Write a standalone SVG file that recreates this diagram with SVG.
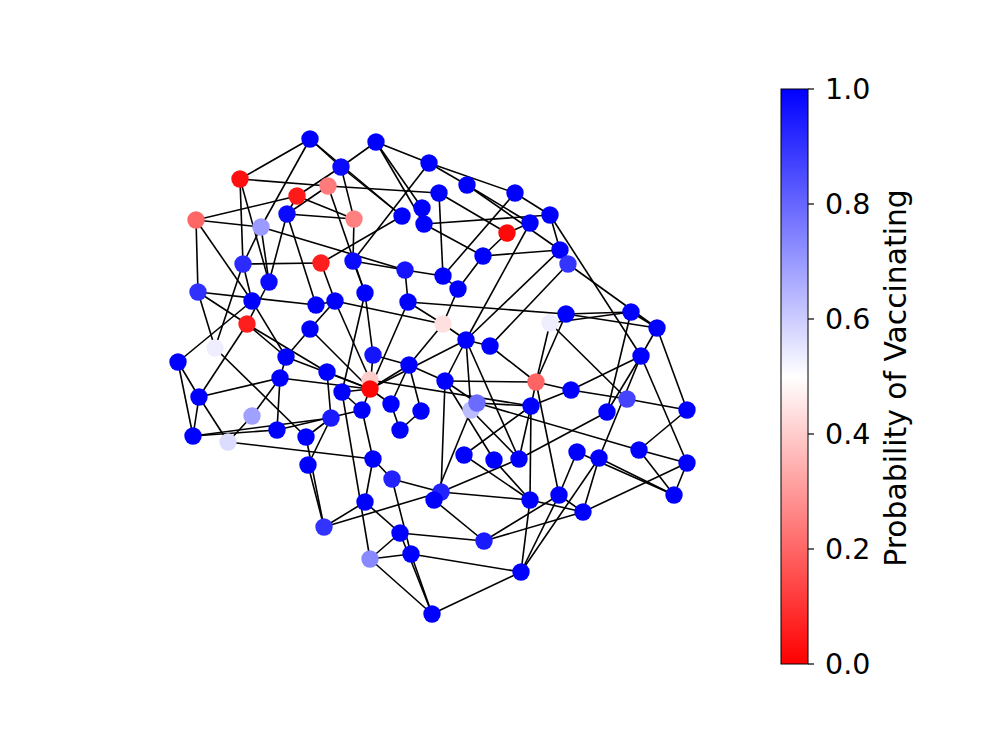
<svg xmlns="http://www.w3.org/2000/svg" width="996" height="747" viewBox="0 0 996 747">
<style>
.e line{stroke:#000;stroke-width:1.6}
.n circle{r:8.7}
.t{font-family:"DejaVu Sans",sans-serif;font-size:28.5px;fill:#000}
.lab{font-size:29.8px}
</style>
<defs>
<linearGradient id="cb" x1="0" y1="1" x2="0" y2="0">
<stop offset="0" stop-color="#ff0000"/><stop offset="0.5" stop-color="#ffffff"/><stop offset="1" stop-color="#0000ff"/>
</linearGradient>
</defs>
<rect width="996" height="747" fill="#fff"/>
<g id="edges" class="e">
<line x1="310" y1="139" x2="240" y2="179"/><line x1="310" y1="139" x2="341" y2="167"/><line x1="310" y1="139" x2="261" y2="227"/><line x1="310" y1="139" x2="402" y2="216"/>
<line x1="376" y1="142" x2="341" y2="167"/><line x1="376" y1="142" x2="429" y2="163"/><line x1="376" y1="142" x2="422" y2="208"/><line x1="376" y1="142" x2="424" y2="224"/>
<line x1="341" y1="167" x2="297" y2="196"/><line x1="341" y1="167" x2="354" y2="219"/><line x1="341" y1="167" x2="402" y2="216"/>
<line x1="429" y1="163" x2="467" y2="185"/><line x1="429" y1="163" x2="353" y2="261"/><line x1="429" y1="163" x2="515" y2="193"/>
<line x1="240" y1="179" x2="328" y2="186"/><line x1="240" y1="179" x2="243" y2="264"/><line x1="240" y1="179" x2="269" y2="282"/>
<line x1="297" y1="196" x2="196" y2="220"/><line x1="297" y1="196" x2="354" y2="219"/><line x1="297" y1="196" x2="287" y2="214"/>
<line x1="328" y1="186" x2="439" y2="193"/><line x1="328" y1="186" x2="287" y2="214"/><line x1="328" y1="186" x2="365" y2="293"/>
<line x1="439" y1="193" x2="507" y2="233"/><line x1="439" y1="193" x2="443" y2="276"/>
<line x1="467" y1="185" x2="560" y2="250"/><line x1="467" y1="185" x2="530" y2="223"/>
<line x1="515" y1="193" x2="550" y2="215"/><line x1="515" y1="193" x2="443" y2="276"/>
<line x1="424" y1="224" x2="550" y2="215"/><line x1="424" y1="224" x2="483" y2="256"/>
<line x1="550" y1="215" x2="560" y2="250"/><line x1="550" y1="215" x2="641" y2="356"/>
<line x1="530" y1="223" x2="507" y2="233"/><line x1="530" y1="223" x2="466" y2="340"/>
<line x1="507" y1="233" x2="483" y2="256"/>
<line x1="560" y1="250" x2="568" y2="264"/><line x1="568" y1="264" x2="657" y2="328"/><line x1="560" y1="250" x2="483" y2="256"/>
<line x1="483" y1="256" x2="458" y2="289"/>
<line x1="196" y1="220" x2="198" y2="292"/><line x1="196" y1="220" x2="261" y2="227"/><line x1="196" y1="220" x2="252" y2="301"/>
<line x1="261" y1="227" x2="405" y2="270"/><line x1="261" y1="227" x2="243" y2="264"/><line x1="261" y1="227" x2="269" y2="282"/>
<line x1="287" y1="214" x2="354" y2="219"/><line x1="287" y1="214" x2="316" y2="305"/><line x1="287" y1="214" x2="269" y2="282"/>
<line x1="243" y1="264" x2="321" y2="263"/><line x1="243" y1="264" x2="252" y2="301"/>
<line x1="321" y1="263" x2="402" y2="216"/><line x1="321" y1="263" x2="335" y2="301"/>
<line x1="353" y1="261" x2="354" y2="219"/><line x1="353" y1="261" x2="365" y2="293"/><line x1="353" y1="261" x2="405" y2="270"/>
<line x1="405" y1="270" x2="443" y2="276"/><line x1="405" y1="270" x2="408" y2="302"/>
<line x1="443" y1="276" x2="458" y2="289"/>
<line x1="458" y1="289" x2="443" y2="324"/>
<line x1="365" y1="293" x2="373" y2="355"/><line x1="365" y1="293" x2="342" y2="392"/>
<line x1="335" y1="301" x2="316" y2="305"/><line x1="335" y1="301" x2="310" y2="329"/><line x1="335" y1="301" x2="443" y2="324"/>
<line x1="408" y1="302" x2="566" y2="314"/><line x1="408" y1="302" x2="370" y2="389"/><line x1="408" y1="302" x2="443" y2="324"/>
<line x1="310" y1="329" x2="286" y2="357"/><line x1="310" y1="329" x2="370" y2="389"/>
<line x1="443" y1="324" x2="466" y2="340"/><line x1="443" y1="324" x2="409" y2="365"/>
<line x1="550" y1="323" x2="536" y2="382"/><line x1="550" y1="323" x2="627" y2="399"/><line x1="550" y1="323" x2="631" y2="312"/>
<line x1="566" y1="314" x2="631" y2="312"/><line x1="566" y1="314" x2="657" y2="328"/><line x1="566" y1="314" x2="536" y2="382"/>
<line x1="373" y1="355" x2="409" y2="365"/><line x1="373" y1="355" x2="370" y2="389"/>
<line x1="286" y1="357" x2="247" y2="324"/><line x1="286" y1="357" x2="280" y2="378"/><line x1="286" y1="357" x2="252" y2="301"/><line x1="286" y1="357" x2="370" y2="389"/>
<line x1="409" y1="365" x2="391" y2="404"/><line x1="409" y1="365" x2="445" y2="381"/><line x1="409" y1="365" x2="370" y2="389"/>
<line x1="327" y1="372" x2="247" y2="324"/><line x1="327" y1="372" x2="370" y2="389"/><line x1="327" y1="372" x2="331" y2="418"/>
<line x1="280" y1="378" x2="199" y2="397"/><line x1="280" y1="378" x2="252" y2="416"/><line x1="280" y1="378" x2="277" y2="430"/><line x1="280" y1="378" x2="370" y2="389"/>
<line x1="370" y1="389" x2="342" y2="392"/><line x1="370" y1="389" x2="362" y2="410"/><line x1="370" y1="389" x2="391" y2="404"/><line x1="370" y1="389" x2="466" y2="340"/>
<line x1="370" y1="380" x2="335" y2="301"/><line x1="370" y1="380" x2="531" y2="406"/>
<line x1="342" y1="392" x2="370" y2="559"/><line x1="342" y1="392" x2="362" y2="410"/>
<line x1="445" y1="381" x2="466" y2="340"/><line x1="445" y1="381" x2="536" y2="382"/><line x1="445" y1="381" x2="441" y2="492"/><line x1="445" y1="381" x2="494" y2="460"/>
<line x1="391" y1="404" x2="400" y2="430"/>
<line x1="331" y1="418" x2="306" y2="437"/><line x1="331" y1="418" x2="193" y2="436"/>
<line x1="421" y1="411" x2="400" y2="430"/><line x1="421" y1="411" x2="409" y2="365"/>
<line x1="471" y1="410" x2="466" y2="340"/><line x1="471" y1="410" x2="519" y2="459"/><line x1="471" y1="410" x2="434" y2="500"/><line x1="466" y1="340" x2="519" y2="459"/>
<line x1="477" y1="403" x2="531" y2="406"/><line x1="477" y1="403" x2="445" y2="381"/><line x1="477" y1="403" x2="639" y2="450"/>
<line x1="531" y1="406" x2="530" y2="500"/><line x1="531" y1="406" x2="536" y2="382"/><line x1="531" y1="406" x2="464" y2="455"/><line x1="531" y1="406" x2="519" y2="459"/><line x1="531" y1="406" x2="571" y2="390"/>
<line x1="571" y1="390" x2="641" y2="356"/><line x1="571" y1="390" x2="627" y2="399"/><line x1="571" y1="390" x2="536" y2="382"/>
<line x1="199" y1="397" x2="178" y2="362"/><line x1="199" y1="397" x2="247" y2="324"/><line x1="199" y1="397" x2="193" y2="436"/><line x1="199" y1="397" x2="228" y2="442"/>
<line x1="252" y1="416" x2="228" y2="442"/>
<line x1="193" y1="436" x2="178" y2="362"/><line x1="193" y1="436" x2="277" y2="430"/>
<line x1="228" y1="442" x2="373" y2="459"/>
<line x1="277" y1="430" x2="362" y2="410"/>
<line x1="306" y1="437" x2="215" y2="348"/><line x1="306" y1="437" x2="324" y2="527"/>
<line x1="362" y1="410" x2="373" y2="459"/>
<line x1="373" y1="459" x2="392" y2="479"/><line x1="373" y1="459" x2="365" y2="502"/>
<line x1="308" y1="465" x2="324" y2="527"/><line x1="308" y1="465" x2="331" y2="418"/>
<line x1="464" y1="455" x2="530" y2="500"/><line x1="494" y1="460" x2="530" y2="500"/>
<line x1="519" y1="459" x2="441" y2="492"/>
<line x1="392" y1="479" x2="441" y2="492"/><line x1="392" y1="479" x2="411" y2="554"/>
<line x1="441" y1="492" x2="324" y2="527"/><line x1="441" y1="492" x2="530" y2="500"/>
<line x1="434" y1="500" x2="484" y2="541"/>
<line x1="365" y1="502" x2="324" y2="527"/><line x1="365" y1="502" x2="400" y2="533"/>
<line x1="530" y1="500" x2="521" y2="572"/><line x1="530" y1="500" x2="583" y2="512"/>
<line x1="559" y1="495" x2="577" y2="452"/><line x1="559" y1="495" x2="583" y2="512"/><line x1="559" y1="495" x2="536" y2="382"/><line x1="559" y1="495" x2="521" y2="572"/><line x1="559" y1="495" x2="484" y2="541"/>
<line x1="583" y1="512" x2="484" y2="541"/><line x1="400" y1="533" x2="484" y2="541"/><line x1="400" y1="533" x2="432" y2="614"/><line x1="400" y1="533" x2="370" y2="559"/>
<line x1="370" y1="559" x2="432" y2="614"/><line x1="370" y1="559" x2="411" y2="554"/><line x1="411" y1="554" x2="521" y2="572"/><line x1="411" y1="554" x2="432" y2="614"/><line x1="521" y1="572" x2="432" y2="614"/><line x1="521" y1="572" x2="599" y2="458"/>
<line x1="631" y1="312" x2="657" y2="328"/><line x1="631" y1="312" x2="607" y2="412"/><line x1="657" y1="328" x2="641" y2="356"/><line x1="657" y1="328" x2="687" y2="410"/>
<line x1="641" y1="356" x2="607" y2="412"/><line x1="641" y1="356" x2="599" y2="458"/><line x1="641" y1="356" x2="687" y2="463"/>
<line x1="627" y1="399" x2="687" y2="410"/><line x1="687" y1="410" x2="639" y2="450"/><line x1="639" y1="450" x2="687" y2="463"/><line x1="639" y1="450" x2="674" y2="495"/>
<line x1="687" y1="463" x2="674" y2="495"/><line x1="687" y1="463" x2="583" y2="512"/><line x1="599" y1="458" x2="583" y2="512"/><line x1="577" y1="452" x2="674" y2="495"/><line x1="599" y1="458" x2="674" y2="495"/>
<line x1="607" y1="412" x2="519" y2="459"/>
<line x1="178" y1="362" x2="252" y2="301"/><line x1="198" y1="292" x2="215" y2="348"/><line x1="198" y1="292" x2="316" y2="305"/><line x1="198" y1="292" x2="247" y2="324"/>
<line x1="215" y1="348" x2="243" y2="264"/><line x1="247" y1="324" x2="269" y2="282"/>
<line x1="466" y1="340" x2="560" y2="250"/><line x1="490" y1="346" x2="568" y2="264"/><line x1="490" y1="346" x2="536" y2="382"/><line x1="466" y1="340" x2="490" y2="346"/>
</g>
<g class="n">
<g id="n1"><circle cx="310" cy="139" fill="#0000ff"/></g>
<g id="n2"><circle cx="376" cy="142" fill="#0000ff"/></g>
<g id="n3"><circle cx="341" cy="167" fill="#0a0aff"/></g>
<g id="n4"><circle cx="429" cy="163" fill="#0000ff"/></g>
<g id="n5"><circle cx="240" cy="179" fill="#ff1010"/></g>
<g id="n6"><circle cx="297" cy="196" fill="#ff1a1a"/></g>
<g id="n7"><circle cx="328" cy="186" fill="#ff7a7a"/></g>
<g id="n8"><circle cx="439" cy="193" fill="#0000ff"/></g>
<g id="n9"><circle cx="467" cy="185" fill="#0000ff"/></g>
<g id="n10"><circle cx="515" cy="193" fill="#0000ff"/></g>
<g id="n11"><circle cx="287" cy="214" fill="#0a0aff"/></g>
<g id="n12"><circle cx="354" cy="219" fill="#ff8080"/></g>
<g id="n13"><circle cx="196" cy="220" fill="#ff6666"/></g>
<g id="n14"><circle cx="261" cy="227" fill="#9b9bff"/></g>
<g id="n15"><circle cx="402" cy="216" fill="#0000ff"/></g>
<g id="n16"><circle cx="422" cy="208" fill="#0000ff"/></g>
<g id="n17"><circle cx="424" cy="224" fill="#0000ff"/></g>
<g id="n18"><circle cx="550" cy="215" fill="#0000ff"/></g>
<g id="n19"><circle cx="530" cy="223" fill="#0000ff"/></g>
<g id="n20"><circle cx="507" cy="233" fill="#ff0a0a"/></g>
<g id="n21"><circle cx="243" cy="264" fill="#2b2bff"/></g>
<g id="n22"><circle cx="321" cy="263" fill="#ff1e1e"/></g>
<g id="n23"><circle cx="353" cy="261" fill="#0a0aff"/></g>
<g id="n24"><circle cx="560" cy="250" fill="#0000ff"/></g>
<g id="n25"><circle cx="568" cy="264" fill="#3434ff"/></g>
<g id="n26"><circle cx="405" cy="270" fill="#1414ff"/></g>
<g id="n27"><circle cx="483" cy="256" fill="#0000ff"/></g>
<g id="n28"><circle cx="269" cy="282" fill="#0a0aff"/></g>
<g id="n29"><circle cx="443" cy="276" fill="#0000ff"/></g>
<g id="n30"><circle cx="198" cy="292" fill="#3030ff"/></g>
<g id="n31"><circle cx="458" cy="289" fill="#0000ff"/></g>
<g id="n32"><circle cx="252" cy="301" fill="#0000ff"/></g>
<g id="n33"><circle cx="316" cy="305" fill="#0000ff"/></g>
<g id="n34"><circle cx="335" cy="301" fill="#0000ff"/></g>
<g id="n35"><circle cx="365" cy="293" fill="#0000ff"/></g>
<g id="n36"><circle cx="408" cy="302" fill="#0000ff"/></g>
<g id="n37"><circle cx="247" cy="324" fill="#ff1e1e"/></g>
<g id="n38"><circle cx="310" cy="329" fill="#0000ff"/></g>
<g id="n39"><circle cx="443" cy="324" fill="#ffe0e0"/></g>
<g id="n40"><circle cx="550" cy="323" fill="#eeeeff"/></g>
<g id="n41"><circle cx="566" cy="314" fill="#0000ff"/></g>
<g id="n42"><circle cx="631" cy="312" fill="#0000ff"/></g>
<g id="n43"><circle cx="657" cy="328" fill="#0000ff"/></g>
<g id="n44"><circle cx="215" cy="348" fill="#eeeeff"/></g>
<g id="n45"><circle cx="178" cy="362" fill="#0000ff"/></g>
<g id="n46"><circle cx="286" cy="357" fill="#0000ff"/></g>
<g id="n47"><circle cx="373" cy="355" fill="#1414ff"/></g>
<g id="n48"><circle cx="466" cy="340" fill="#0000ff"/></g>
<g id="n49"><circle cx="490" cy="346" fill="#0000ff"/></g>
<g id="n50"><circle cx="641" cy="356" fill="#0000ff"/></g>
<g id="n51"><circle cx="409" cy="365" fill="#0000ff"/></g>
<g id="n52"><circle cx="327" cy="372" fill="#0000ff"/></g>
<g id="n53"><circle cx="280" cy="378" fill="#0000ff"/></g>
<g id="n54"><circle cx="370" cy="380" fill="#ffcccc"/></g>
<g id="n55"><circle cx="370" cy="389" fill="#ff0505"/></g>
<g id="n56"><circle cx="342" cy="392" fill="#0000ff"/></g>
<g id="n57"><circle cx="445" cy="381" fill="#0000ff"/></g>
<g id="n58"><circle cx="536" cy="382" fill="#ff6464"/></g>
<g id="n59"><circle cx="571" cy="390" fill="#0000ff"/></g>
<g id="n60"><circle cx="199" cy="397" fill="#0000ff"/></g>
<g id="n61"><circle cx="252" cy="416" fill="#a0a0ff"/></g>
<g id="n62"><circle cx="362" cy="410" fill="#0000ff"/></g>
<g id="n63"><circle cx="391" cy="404" fill="#0000ff"/></g>
<g id="n64"><circle cx="331" cy="418" fill="#1a1aff"/></g>
<g id="n65"><circle cx="421" cy="411" fill="#0000ff"/></g>
<g id="n66"><circle cx="471" cy="410" fill="#bbbbff"/></g>
<g id="n67"><circle cx="477" cy="403" fill="#6b6bff"/></g>
<g id="n68"><circle cx="531" cy="406" fill="#0000ff"/></g>
<g id="n69"><circle cx="607" cy="412" fill="#0000ff"/></g>
<g id="n70"><circle cx="627" cy="399" fill="#4444ff"/></g>
<g id="n71"><circle cx="687" cy="410" fill="#0000ff"/></g>
<g id="n72"><circle cx="193" cy="436" fill="#0000ff"/></g>
<g id="n73"><circle cx="228" cy="442" fill="#dcdcff"/></g>
<g id="n74"><circle cx="277" cy="430" fill="#0000ff"/></g>
<g id="n75"><circle cx="306" cy="437" fill="#0000ff"/></g>
<g id="n76"><circle cx="400" cy="430" fill="#0000ff"/></g>
<g id="n77"><circle cx="373" cy="459" fill="#0000ff"/></g>
<g id="n78"><circle cx="308" cy="465" fill="#0000ff"/></g>
<g id="n79"><circle cx="464" cy="455" fill="#0000ff"/></g>
<g id="n80"><circle cx="494" cy="460" fill="#0000ff"/></g>
<g id="n81"><circle cx="519" cy="459" fill="#0000ff"/></g>
<g id="n82"><circle cx="577" cy="452" fill="#0000ff"/></g>
<g id="n83"><circle cx="599" cy="458" fill="#0000ff"/></g>
<g id="n84"><circle cx="639" cy="450" fill="#0000ff"/></g>
<g id="n85"><circle cx="687" cy="463" fill="#0000ff"/></g>
<g id="n86"><circle cx="392" cy="479" fill="#2222ff"/></g>
<g id="n87"><circle cx="441" cy="492" fill="#2222ff"/></g>
<g id="n88"><circle cx="434" cy="500" fill="#0000ff"/></g>
<g id="n89"><circle cx="365" cy="502" fill="#0000ff"/></g>
<g id="n90"><circle cx="530" cy="500" fill="#0000ff"/></g>
<g id="n91"><circle cx="559" cy="495" fill="#0000ff"/></g>
<g id="n92"><circle cx="674" cy="495" fill="#0000ff"/></g>
<g id="n93"><circle cx="583" cy="512" fill="#0000ff"/></g>
<g id="n94"><circle cx="324" cy="527" fill="#3333ff"/></g>
<g id="n95"><circle cx="400" cy="533" fill="#0000ff"/></g>
<g id="n96"><circle cx="484" cy="541" fill="#1a1aff"/></g>
<g id="n97"><circle cx="370" cy="559" fill="#8888ff"/></g>
<g id="n98"><circle cx="411" cy="554" fill="#0000ff"/></g>
<g id="n99"><circle cx="521" cy="572" fill="#0000ff"/></g>
<g id="n100"><circle cx="432" cy="614" fill="#0000ff"/></g>
</g>
<g id="colorbar">
<rect x="781" y="89" width="27" height="575" fill="url(#cb)" stroke="#000" stroke-width="1"/>
<g stroke="#000" stroke-width="1.2">
<line x1="808" y1="664" x2="814" y2="664"/><line x1="808" y1="549" x2="814" y2="549"/><line x1="808" y1="434" x2="814" y2="434"/><line x1="808" y1="319" x2="814" y2="319"/><line x1="808" y1="204" x2="814" y2="204"/><line x1="808" y1="89" x2="814" y2="89"/>
</g>
<text class="t" x="825" y="674">0.0</text>
<text class="t" x="825" y="559">0.2</text>
<text class="t" x="825" y="444">0.4</text>
<text class="t" x="825" y="329">0.6</text>
<text class="t" x="825" y="214">0.8</text>
<text class="t" x="825" y="99">1.0</text>
<text class="t lab" x="0" y="0" text-anchor="middle" transform="translate(906 378) rotate(-90)">Probability of Vaccinating</text>
</g>
</svg>
